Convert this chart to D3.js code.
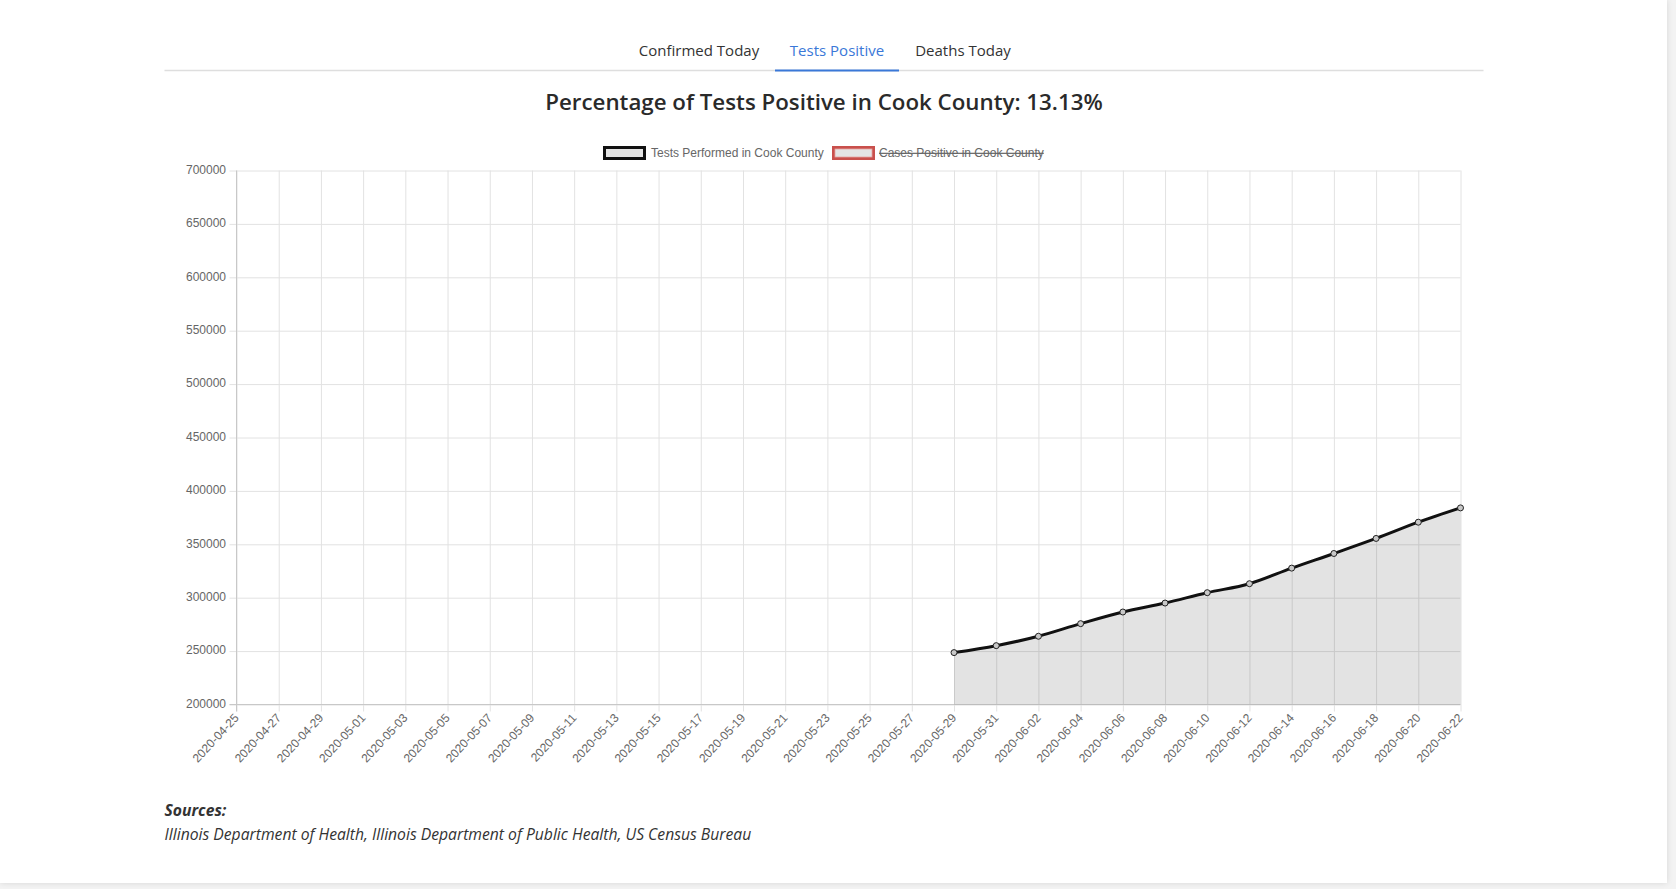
<!DOCTYPE html>
<html>
<head>
<meta charset="utf-8">
<script src="https://cdn.jsdelivr.net/npm/d3@7"></script>
<style>
  html, body { margin: 0; padding: 0; background: #f3f3f3; overflow: hidden; }
  #page { position: absolute; left: 0; top: 0; width: 1667px; height: 883px; background: #fff;
          box-shadow: 0 0 6px rgba(0,0,0,0.12); }
  svg { position: absolute; left: 0; top: 0; }
</style>
</head>
<body>
<div id="page"></div>
<script>
// ---- data ----
const dateLabels = ["2020-04-25","2020-04-27","2020-04-29","2020-05-01","2020-05-03","2020-05-05",
  "2020-05-07","2020-05-09","2020-05-11","2020-05-13","2020-05-15","2020-05-17","2020-05-19",
  "2020-05-21","2020-05-23","2020-05-25","2020-05-27","2020-05-29","2020-05-31","2020-06-02",
  "2020-06-04","2020-06-06","2020-06-08","2020-06-10","2020-06-12","2020-06-14","2020-06-16",
  "2020-06-18","2020-06-20","2020-06-22"];
const testsPerformed = [null,null,null,null,null,null,null,null,null,null,null,null,null,null,null,null,null,
  248600,255100,263900,275700,286600,295000,304700,313100,327700,341400,355500,370700,384100];
const yTicks = [200000,250000,300000,350000,400000,450000,500000,550000,600000,650000,700000];
const tabLabels = ["Confirmed Today","Tests Positive","Deaths Today"];
const legendLabels = ["Tests Performed in Cook County","Cases Positive in Cook County"];
const chartTitle = "Percentage of Tests Positive in Cook County: 13.13%";
const sourcesTitle = "Sources:";
const sourcesText = "Illinois Department of Health, Illinois Department of Public Health, US Census Bureau";

(function () {
const W = 1676, H = 889;
const svg = d3.select("body").append("svg").attr("width", W).attr("height", H);

// ---- tabs ----
const tabX = [699, 837, 963];
svg.append("line").attr("x1", 164.5).attr("x2", 1483.5).attr("y1", 70.5).attr("y2", 70.5)
  .attr("stroke", "#dedede").attr("stroke-width", 1.5);
svg.append("line").attr("x1", 775).attr("x2", 899).attr("y1", 70.5).attr("y2", 70.5)
  .attr("stroke", "#3a78d8").attr("stroke-width", 2);
svg.selectAll("text.tab").data(tabLabels).join("text")
  .attr("class", "tab")
  .attr("x", (d, i) => tabX[i]).attr("y", 56)
  .attr("text-anchor", "middle")
  .attr("font-family", "'Open Sans', 'Noto Sans', sans-serif")
  .attr("font-size", 15)
  .attr("fill", (d, i) => i === 1 ? "#3a78d8" : "#333")
  .text(d => d);

// ---- title ----
svg.append("text").attr("x", 824).attr("y", 110).attr("text-anchor", "middle")
  .attr("font-family", "'Open Sans', 'Noto Sans', sans-serif")
  .attr("font-size", 22.3).attr("font-weight", 600).attr("fill", "#2a2a2a")
  .text(chartTitle);

// ---- legend ----
const legendFont = "Arial, 'Liberation Sans', Helvetica, sans-serif";
const legBoxes = [{x: 604.5, stroke: "#111", inner: null}, {x: 833.5, stroke: "#c9504c", inner: "#e7a3a1"}];
const legTextX = [651, 879];
legBoxes.forEach((b) => {
  svg.append("rect").attr("x", b.x).attr("y", 147.5).attr("width", 40).attr("height", 11)
    .attr("fill", "#e4e4e4").attr("stroke", b.stroke).attr("stroke-width", 3);
  if (b.inner) {
    svg.append("rect").attr("x", b.x + 1.5).attr("y", 149).attr("width", 37).attr("height", 8)
      .attr("fill", "none").attr("stroke", b.inner).attr("stroke-width", 0.8);
  }
});
const legT = svg.selectAll("text.leg").data(legendLabels).join("text")
  .attr("class", "leg")
  .attr("x", (d, i) => legTextX[i]).attr("y", 157)
  .attr("font-family", legendFont).attr("font-size", 12).attr("fill", "#666")
  .text(d => d);
legT.filter((d, i) => i === 1).attr("text-decoration", "line-through");

// ---- scales ----
const pLeft = 236.5, pRight = 1460.5, pTop = 170.5, pBottom = 704.5;
const x = d3.scalePoint().domain(dateLabels).range([pLeft, pRight]);
const y = d3.scaleLinear().domain([200000, 700000]).range([pBottom, pTop]);

const tickFont = "Arial, 'Liberation Sans', Helvetica, sans-serif";

// grid (vertical)
const xAxis = d3.axisBottom(x).tickSize(-(pBottom - pTop)).tickFormat("");
const gx = svg.append("g").attr("transform", `translate(0,${pBottom})`).call(xAxis);
gx.select(".domain").remove();
gx.selectAll(".tick line").attr("stroke", "#e2e2e2").attr("y2", -(pBottom - pTop)).attr("y1", 7);
// grid (horizontal)
const yAxis = d3.axisLeft(y).tickValues(yTicks).tickSize(-(pRight - pLeft)).tickFormat("");
const gy = svg.append("g").attr("transform", `translate(${pLeft},0)`).call(yAxis);
gy.select(".domain").remove();
gy.selectAll(".tick line").attr("stroke", "#e2e2e2").attr("x1", -7);

// axis borders
svg.append("line").attr("x1", pLeft).attr("x2", pLeft).attr("y1", pTop).attr("y2", pBottom + 7)
  .attr("stroke", "#c8c8c8");
svg.append("line").attr("x1", pLeft - 7).attr("x2", pRight).attr("y1", pBottom).attr("y2", pBottom)
  .attr("stroke", "#c8c8c8");

// y tick labels
svg.append("g").selectAll("text").data(yTicks).join("text")
  .attr("x", 226).attr("y", d => y(d) - 1).attr("dy", "0.35em")
  .attr("text-anchor", "end")
  .attr("font-family", tickFont).attr("font-size", 12).attr("fill", "#666")
  .text(d => d3.format("d")(d));

// x tick labels
svg.append("g").selectAll("text").data(dateLabels).join("text")
  .attr("transform", d => `translate(${x(d)},${pBottom + 11}) rotate(-47)`)
  .attr("text-anchor", "end").attr("dy", "0.35em")
  .attr("font-family", tickFont).attr("font-size", 12).attr("fill", "#666")
  .text(d => d);

// ---- series ----
const pts = dateLabels.map((d, i) => ({d, v: testsPerformed[i]})).filter(p => p.v !== null);
const curve = d3.curveMonotoneX;
const area = d3.area().x(p => x(p.d)).y0(pBottom).y1(p => y(p.v)).curve(curve);
svg.append("path").datum(pts).attr("d", area).attr("fill", "rgba(0,0,0,0.11)");
const line = d3.line().x(p => x(p.d)).y(p => y(p.v)).curve(curve);
svg.append("path").datum(pts).attr("d", line).attr("fill", "none")
  .attr("stroke", "#111").attr("stroke-width", 3);
svg.append("g").selectAll("circle").data(pts).join("circle")
  .attr("cx", p => x(p.d)).attr("cy", p => y(p.v)).attr("r", 3)
  .attr("fill", "#c8c8c8").attr("stroke", "#222").attr("stroke-width", 1);

// ---- sources ----
svg.append("text").attr("x", 164.5).attr("y", 816)
  .attr("font-family", "'Open Sans', 'Noto Sans', sans-serif")
  .attr("font-size", 15.7).attr("font-weight", 700).attr("font-style", "italic").attr("fill", "#333")
  .text(sourcesTitle);
svg.append("text").attr("x", 164.5).attr("y", 840)
  .attr("font-family", "'Open Sans', 'Noto Sans', sans-serif")
  .attr("font-size", 15.7).attr("font-style", "italic").attr("fill", "#333")
  .text(sourcesText);
})();
</script>
</body>
</html>
